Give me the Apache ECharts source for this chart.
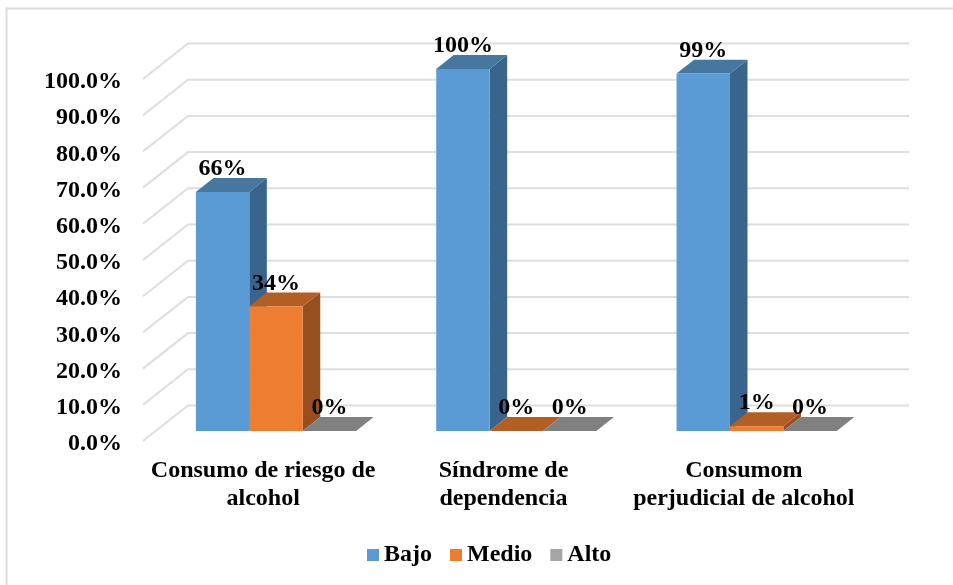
<!DOCTYPE html>
<html>
<head>
<meta charset="utf-8">
<style>
html,body{margin:0;padding:0;background:#fff;}
#chart{width:953px;height:585px;}
</style>
<script src="https://cdn.jsdelivr.net/npm/echarts@6/dist/echarts.min.js"></script>
</head>
<body>
<div id="chart"></div>
<script>
var categories = ['Consumo de riesgo de\nalcohol', 'Síndrome de\ndependencia', 'Consumom\nperjudicial de alcohol'];
var seriesNames = ['Bajo', 'Medio', 'Alto'];
var bajo = [66, 100, 98.7];
var medio = [34.4, 0, 1.3];
var alto = [0, 0, 0];
var yTicks = [0, 10, 20, 30, 40, 50, 60, 70, 80, 90, 100];

var font = 'bold 24px "Liberation Serif", serif';
// how far the fake 3d depth moves things, front of floor to back wall
var depthX = 45, depthY = 35.5;
var barFront = 0.285, barDepth = 0.39;
var faces = [
    {front:'#5b9bd5', top:'#47779f', side:'#39648c'},
    {front:'#ed7d31', top:'#b25f26', side:'#974f1f'},
    {front:'#a5a5a5', top:'#808080', side:'#6b6b6b'}
];

function poly(points, color){
    return {type:'polygon', shape:{points:points}, style:{fill:color}, silent:true};
}

function gridLines(params, api){
    var rect = params.coordSys;
    var p = api.coord([0, api.value(1)]);
    var y = p[1];
    return {
        type:'polyline',
        shape:{points:[
            [rect.x, y],
            [rect.x + depthX, y - depthY],
            [rect.x + rect.width + depthX, y - depthY]
        ]},
        style:{fill:'none', stroke:'#dedede', lineWidth:2},
        silent:true
    };
}

function bar3d(index){
    return function(params, api){
        var val = api.value(1);
        var top = api.coord([api.value(0), val]);
        var base = api.coord([api.value(0), 0]);
        var w = api.size([1, 0])[0] / 4.5;
        var x = top[0] - 1.5 * w + index * w + barFront * depthX;
        var y1 = top[1] - barFront * depthY;
        var y0 = base[1] - barFront * depthY;
        var dx = barDepth * depthX, dy = barDepth * depthY;
        var c = faces[index];
        return {
            type:'group',
            children:[
                poly([[x+w,y1],[x+w+dx,y1-dy],[x+w+dx,y0-dy],[x+w,y0]], c.side),
                poly([[x,y1],[x+dx,y1-dy],[x+w+dx,y1-dy],[x+w,y1]], c.top),
                poly([[x,y1],[x+w,y1],[x+w,y0],[x,y0]], c.front),
                {
                    type:'text',
                    z2:10,
                    silent:true,
                    style:{
                        text:Math.round(val) + '%',
                        x:x + w / 2,
                        y:y1 - 23,
                        align:'center',
                        verticalAlign:'middle',
                        font:font,
                        fill:'#000'
                    }
                }
            ]
        };
    };
}

function makeSeries(name, values, index){
    return {
        name:name,
        type:'custom',
        coordinateSystem:'cartesian2d',
        renderItem:bar3d(index),
        itemStyle:{color:faces[index].front},
        encode:{x:0, y:1},
        z:3 + index,
        data:values.map(function(v, i){ return [i, v]; })
    };
}

var chart = echarts.init(document.getElementById('chart'));
chart.setOption({
    animation:false,
    backgroundColor:'#fff',
    graphic:[{
        type:'polyline',
        shape:{points:[[6.5,585],[6.5,8.5],[953,8.5]]},
        style:{fill:'none', stroke:'#dcdcdc', lineWidth:2},
        silent:true
    }],
    legend:{
        data:seriesNames,
        left:367,
        top:543,
        padding:0,
        icon:'rect',
        itemWidth:12,
        itemHeight:12,
        itemGap:18,
        textStyle:{fontFamily:'Liberation Serif', fontWeight:'bold', fontSize:24, color:'#000', padding:[0,0,0,0]}
    },
    grid:{left:143, top:79, width:721, height:362},
    xAxis:{
        type:'category',
        data:categories,
        axisLine:{show:false},
        axisTick:{show:false},
        splitLine:{show:false},
        axisLabel:{
            interval:0,
            margin:16,
            fontFamily:'Liberation Serif',
            fontWeight:'bold',
            fontSize:24,
            lineHeight:28,
            color:'#000'
        }
    },
    yAxis:{
        type:'value',
        min:0,
        max:100,
        interval:10,
        axisLine:{show:false},
        axisTick:{show:false},
        splitLine:{show:false},
        axisLabel:{
            margin:21,
            verticalAlign:'top',
            lineHeight:6,
            fontFamily:'Liberation Serif',
            fontWeight:'bold',
            fontSize:24,
            color:'#000',
            formatter:function(v){ return v.toFixed(1) + '%'; }
        }
    },
    series:[
        {
            name:'grid',
            type:'custom',
            coordinateSystem:'cartesian2d',
            renderItem:gridLines,
            encode:{y:1},
            z:1,
            data:yTicks.map(function(v){ return [0, v]; })
        },
        makeSeries(seriesNames[0], bajo, 0),
        makeSeries(seriesNames[1], medio, 1),
        makeSeries(seriesNames[2], alto, 2)
    ]
});
</script>
</body>
</html>
